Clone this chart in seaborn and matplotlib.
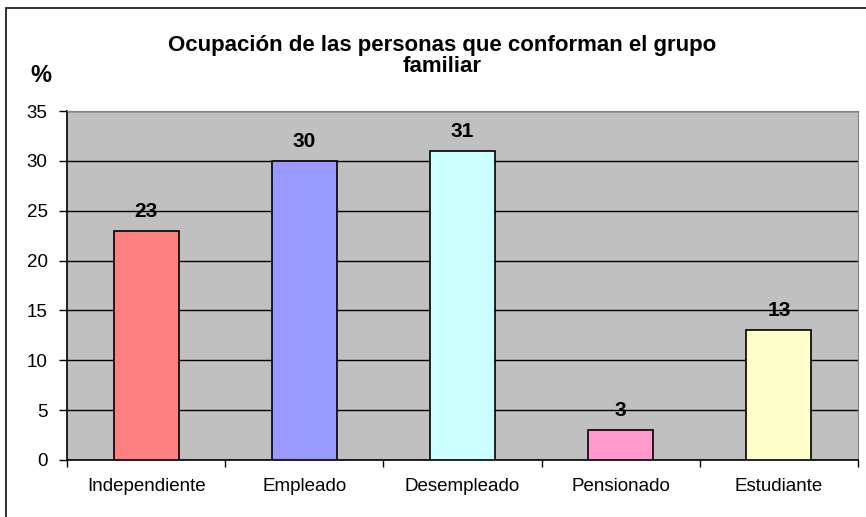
import matplotlib
matplotlib.use("Agg")
import matplotlib.pyplot as plt
import seaborn as sns
import pandas as pd
from matplotlib.patches import Rectangle

categorias = ["Independiente", "Empleado", "Desempleado", "Pensionado", "Estudiante"]
porcentajes = [23, 30, 31, 3, 13]
colores = ["#FF8080", "#9999FF", "#CCFFFF", "#FF99CC", "#FFFFCC"]
y_ticks = [0, 5, 10, 15, 20, 25, 30, 35]
titulo = "Ocupación de las personas que conforman el grupo\nfamiliar"

df = pd.DataFrame({"ocupacion": categorias, "pct": porcentajes})

plt.rcParams["font.family"] = ["Liberation Sans", "DejaVu Sans"]

fig = plt.figure(figsize=(8.66, 5.17), dpi=100)
ax = fig.add_axes([67/866, 1 - 460/517, (858 - 67)/866, (460 - 111)/517])
ax.set_facecolor("#C0C0C0")
ax.set_axisbelow(True)
ax.yaxis.grid(True, color="black", linewidth=1)

sns.barplot(data=df, x="ocupacion", y="pct", hue="ocupacion", palette=colores,
            saturation=1, width=0.41, edgecolor="black", linewidth=1.2,
            legend=False, ax=ax, zorder=3)

# etiquetas de datos
for i, v in enumerate(porcentajes):
    ax.annotate(str(v), (i, v), xytext=(0, 14), textcoords="offset points",
                ha="center", va="center", fontsize=15, fontweight="bold")

ax.set_ylim(0, 35)
ax.set_xlim(-0.5, 4.5)
ax.set_yticks(y_ticks)
ax.set_xlabel("")
ax.set_ylabel("")
ax.tick_params(axis="y", direction="out", length=6, width=1, color="black",
               labelsize=13.5, pad=8)
ax.tick_params(axis="x", which="major", length=0, labelsize=13.5, pad=13)
ax.set_xticks([-0.5, 0.5, 1.5, 2.5, 3.5, 4.5], minor=True)
ax.tick_params(axis="x", which="minor", direction="out", length=5, width=1, color="black")

for s in ["top", "right"]:
    ax.spines[s].set_color("#808080")
for s in ["left", "bottom"]:
    ax.spines[s].set_color("black")
    ax.spines[s].set_linewidth(1.2)

fig.text(442/866, 1 - 56/517, titulo, ha="center", va="center", fontsize=16,
         fontweight="bold", linespacing=1.0)
fig.text(41/866, 1 - 76/517, "%", ha="center", va="center", fontsize=17,
         fontweight="bold")

fig.patches.append(Rectangle((6/866, -0.1), 1.0, 1.1 - 8/517, transform=fig.transFigure,
                             fill=False, edgecolor="#202020", linewidth=1.3))

fig.savefig("out.png", dpi=100)
